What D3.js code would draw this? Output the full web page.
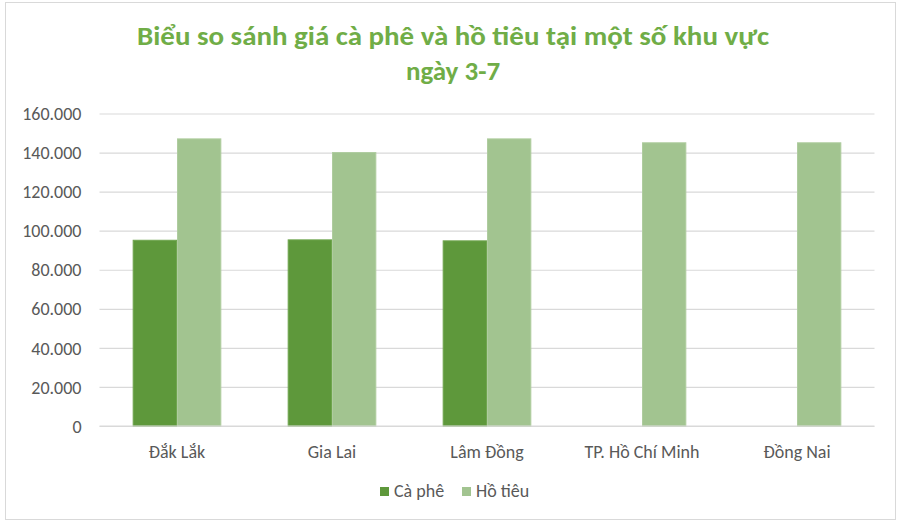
<!DOCTYPE html>
<html>
<head>
<meta charset="utf-8">
<script src="https://cdn.jsdelivr.net/npm/d3@7/dist/d3.min.js"></script>
<style>
  html, body { margin: 0; padding: 0; background: #fff; }
  svg { display: block; }
  text { font-family: Carlito, Calibri, Lato, "Open Sans", sans-serif; }
</style>
</head>
<body>
<svg id="chart" width="900" height="522"></svg>
<script>
const categories = ["Đắk Lắk", "Gia Lai", "Lâm Đồng", "TP. Hồ Chí Minh", "Đồng Nai"];
const seriesNames = ["Cà phê", "Hồ tiêu"];
const caPhe = [95100, 95300, 94800, null, null];
const hoTieu = [147000, 140000, 147000, 145000, 145000];
const yTicks = [0, 20000, 40000, 60000, 80000, 100000, 120000, 140000, 160000];
const titleLines = ["Biểu so sánh giá cà phê và hồ tiêu tại một số khu vực", "ngày 3-7"];

const colors = ["#5E983B", "#A2C490"];
const strokes = ["#6FA54E", "#AFCC9F"];

const svg = d3.select("#chart");
const m = { left: 99.5, right: 874.5, top: 113.5, bottom: 426 };

// pick a label font size so "TP. Hồ Chí Minh" spans about 120px, like the reference
function fitSize(str, target, weight) {
  const t = svg.append("text").attr("font-size", 20).attr("font-weight", weight || "normal").text(str);
  const w = t.node().getComputedTextLength();
  t.remove();
  return 20 * target / w;
}
const labelSize = Math.min(18, fitSize("TP. Hồ Chí Minh", 120));
const tickSize = Math.min(18, fitSize("160.000", 60));

// chart border
svg.append("rect")
  .attr("x", 5.5).attr("y", 2.5).attr("width", 890).attr("height", 517)
  .attr("fill", "#fff").attr("stroke", "#d9d9d9").attr("stroke-width", 1);

// title
titleLines.forEach((t, i) => {
  const el = svg.append("text")
    .attr("x", 453).attr("y", 45 + i * 35)
    .attr("text-anchor", "middle")
    .attr("fill", "#70AD47")
    .attr("font-weight", "bold")
    .attr("font-size", 27)
    .text(t);
  const target = i === 0 ? 632 : 96;
  const len = el.node().getComputedTextLength();
  if (Math.abs(len - target) > 4) {
    el.attr("textLength", target).attr("lengthAdjust", "spacingAndGlyphs");
  }
});

const x0 = d3.scaleBand().domain(categories).range([m.left, m.right]).paddingInner(0).paddingOuter(0);
const groupW = x0.bandwidth() * 0.572;
const x1 = d3.scaleBand().domain(seriesNames).range([0, groupW]).padding(0);
const y = d3.scaleLinear().domain([0, 160000]).range([m.bottom, m.top]);

// gridlines + y labels
const yAxis = d3.axisLeft(y).tickValues(yTicks).tickSize(-(m.right - m.left)).tickPadding(18)
  .tickFormat(d => d3.format(",")(d).replace(/,/g, "."));
const gy = svg.append("g").attr("transform", `translate(${m.left},0)`).call(yAxis);
gy.select(".domain").remove();
gy.selectAll(".tick line").attr("stroke", "#d9d9d9").attr("stroke-width", 1.2);
gy.selectAll(".tick text").attr("fill", "#595959").attr("font-size", tickSize).attr("dy", "0.34em");

// bars
const data = categories.map((c, i) => ({ c, vals: [caPhe[i], hoTieu[i]] }));
const groups = svg.append("g").selectAll("g").data(data).join("g")
  .attr("transform", d => `translate(${x0(d.c) + (x0.bandwidth() - groupW) / 2},0)`);
groups.selectAll("rect")
  .data(d => d.vals.map((v, k) => ({ k, v })).filter(e => e.v != null))
  .join("rect")
  .attr("x", e => x1(seriesNames[e.k]) + 0.5)
  .attr("width", x1.bandwidth() - 1)
  .attr("y", e => y(e.v))
  .attr("height", e => y(0) - y(e.v))
  .attr("fill", e => colors[e.k])
  .attr("stroke", e => strokes[e.k])
  .attr("stroke-width", 1);

// x axis line
svg.append("line")
  .attr("x1", m.left).attr("x2", m.right).attr("y1", y(0)).attr("y2", y(0))
  .attr("stroke", "#d9d9d9").attr("stroke-width", 1.2);

// category labels
const xAxis = d3.axisBottom(x0).tickSize(0).tickPadding(19);
const gx = svg.append("g").attr("transform", `translate(0,${m.bottom})`).call(xAxis);
gx.select(".domain").remove();
gx.selectAll(".tick text").attr("fill", "#595959").attr("font-size", labelSize);

// legend
const legendItems = [
  { name: seriesNames[0], color: colors[0], x: 380 },
  { name: seriesNames[1], color: colors[1], x: 462 }
];
const lg = svg.append("g");
legendItems.forEach(it => {
  lg.append("rect").attr("x", it.x).attr("y", 487).attr("width", 9).attr("height", 9).attr("fill", it.color);
  lg.append("text").attr("x", it.x + 14).attr("y", 496.5)
    .attr("fill", "#595959").attr("font-size", labelSize).text(it.name);
});
</script>
</body>
</html>
